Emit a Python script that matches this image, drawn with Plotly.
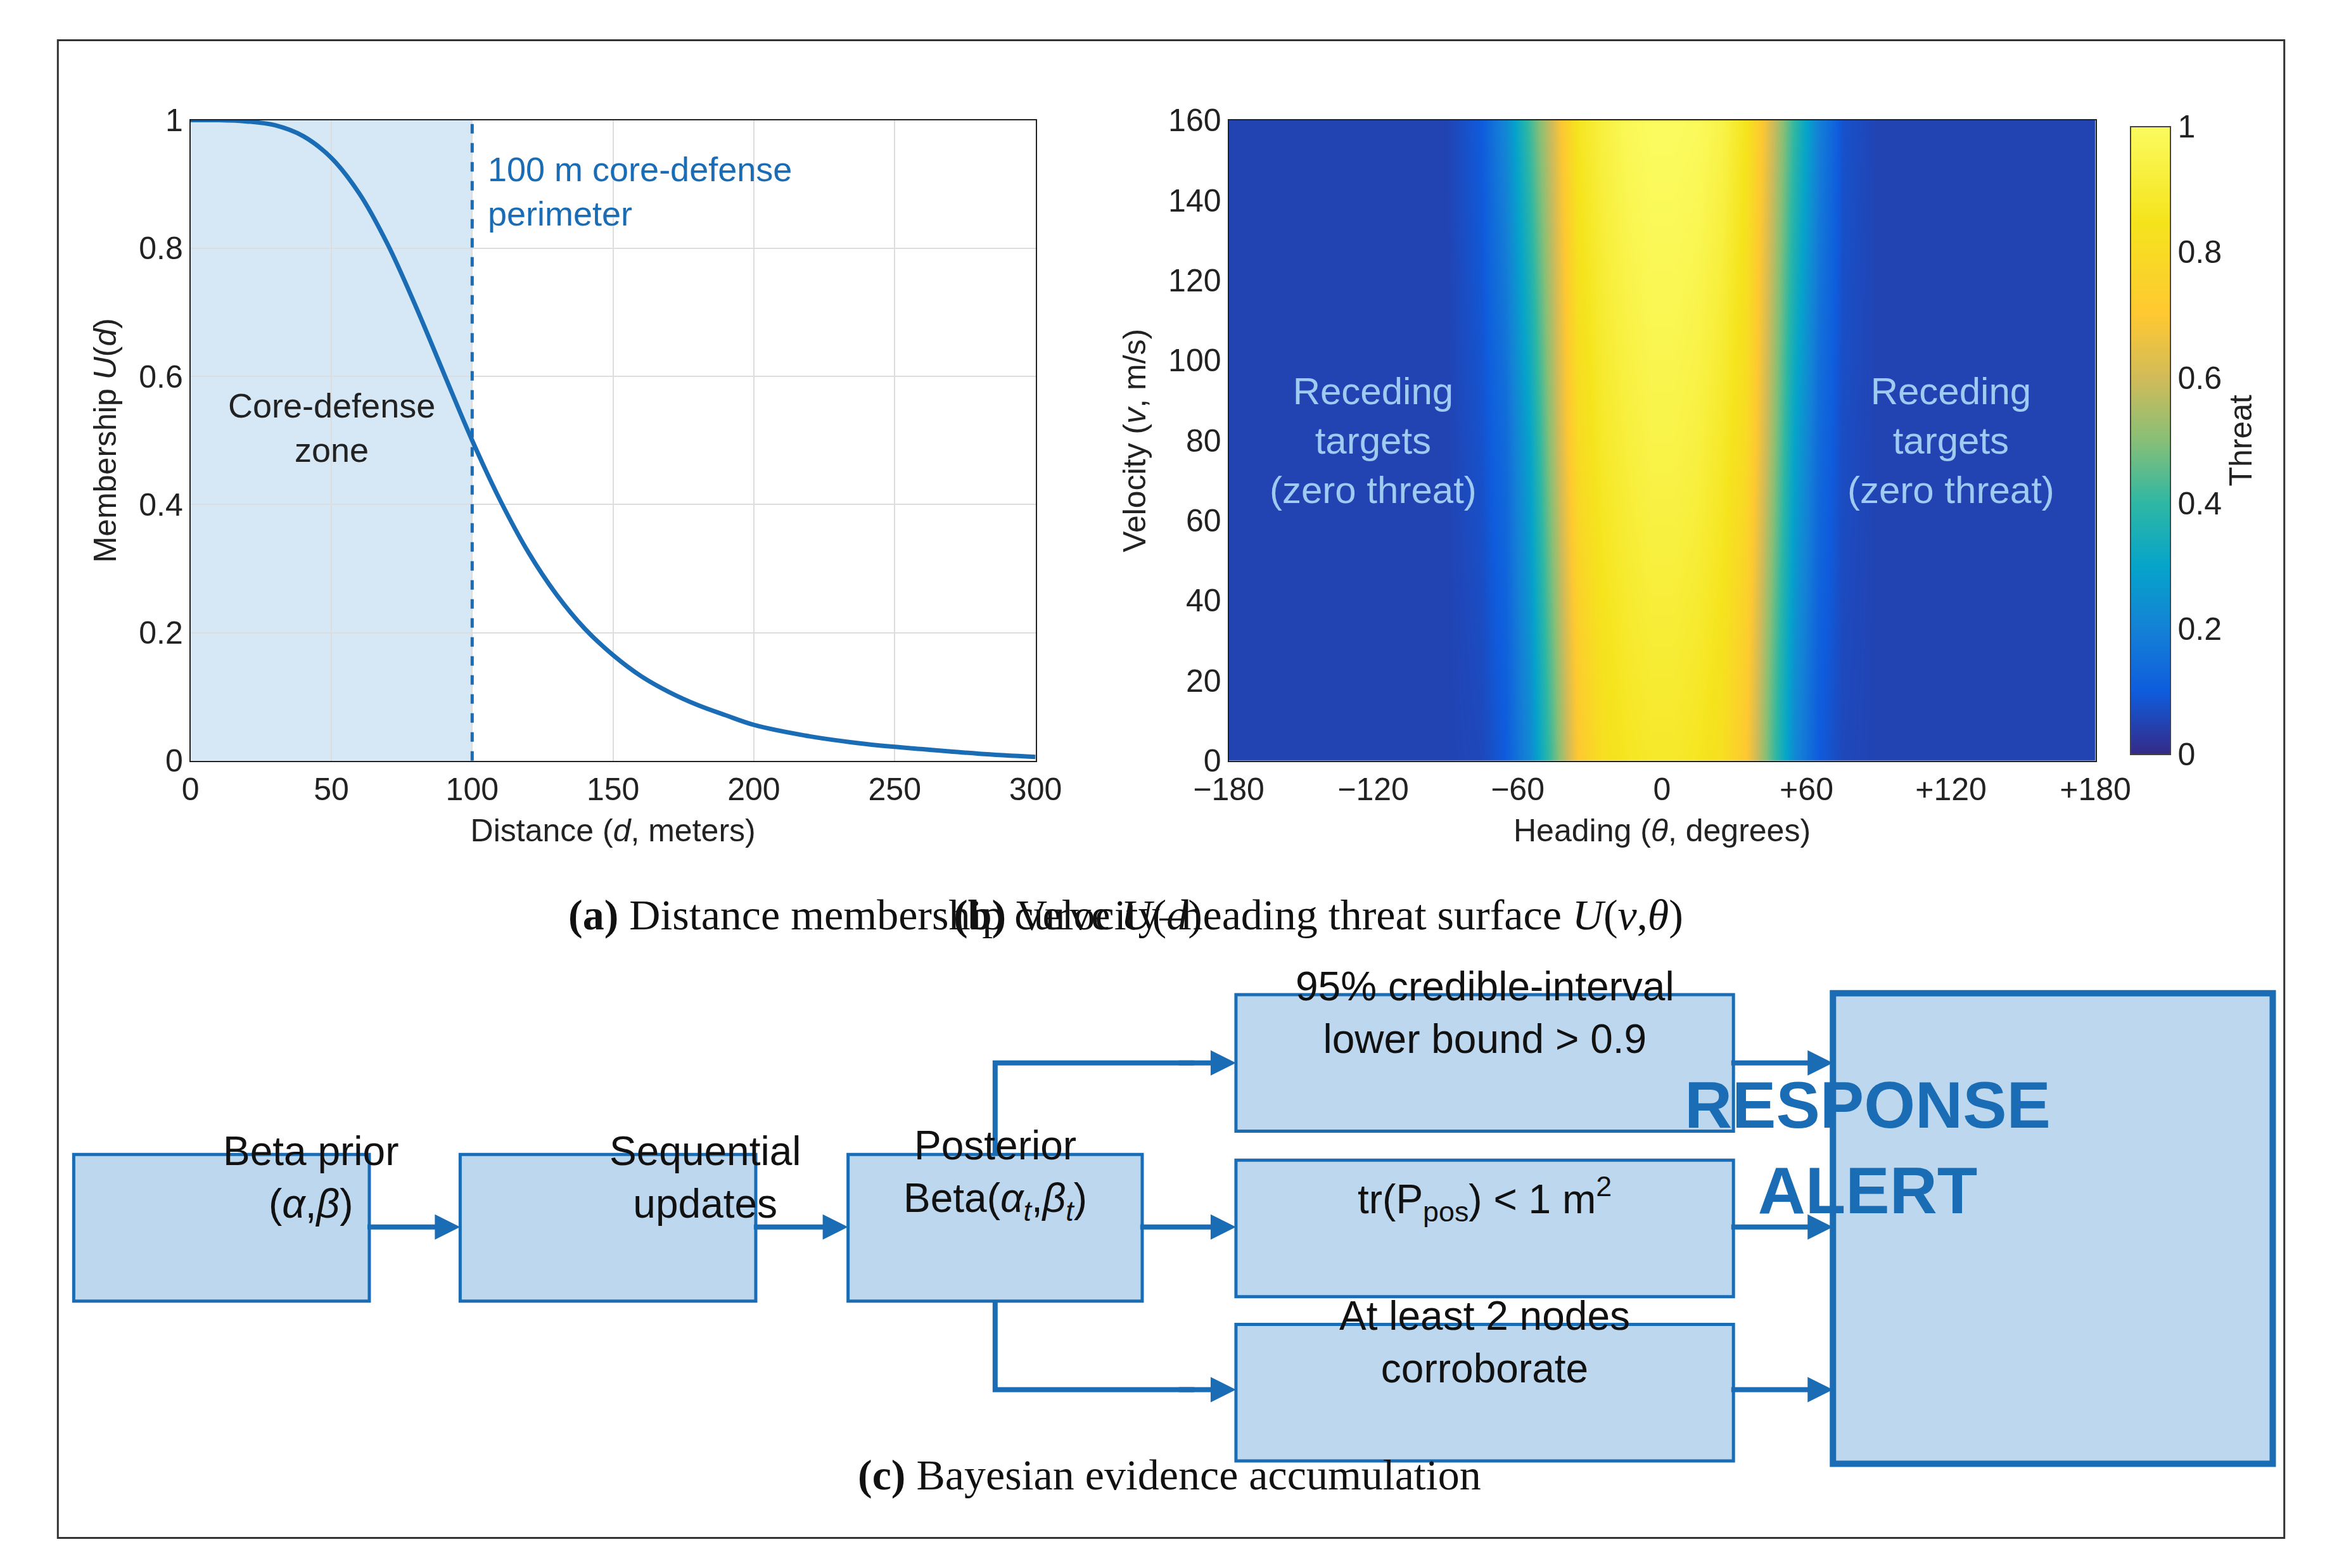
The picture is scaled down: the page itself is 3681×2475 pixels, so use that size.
import plotly.graph_objects as go

W, H = 3681, 2475
SW, SH = 1568.0, 1055.0
def px(x): return x / SW
def py(y): return 1 - y / SH

# Panel (a) data
dist = [0,10,20,30,40,50,60,70,80,90,100,110,120,130,140,150,160,170,180,190,200,220,240,260,280,300]
memb = [1.0,1.0,0.998,0.992,0.975,0.941,0.885,0.806,0.709,0.604,0.5,0.406,0.325,0.259,0.206,0.165,0.132,0.107,0.087,0.071,0.056,0.038,0.026,0.018,0.011,0.006]

# Panel (b) data
heading = [-180,-90,-75,-65,-55,-45,-35,-25,-15,-5,5,15,25,35,45,55,65,75,90,180]
velocity = [0, 80, 160]
threat = [
    [0.05,0.05,0.06,0.10,0.22,0.45,0.70,0.82,0.86,0.88,0.88,0.86,0.82,0.70,0.45,0.22,0.10,0.06,0.05,0.05],
    [0.05,0.05,0.08,0.14,0.30,0.55,0.80,0.88,0.92,0.95,0.95,0.93,0.88,0.80,0.55,0.30,0.14,0.07,0.05,0.05],
    [0.05,0.05,0.10,0.22,0.42,0.62,0.86,0.93,0.98,1.00,1.00,0.99,0.95,0.85,0.62,0.40,0.20,0.08,0.05,0.05],
]
hticks = [-180,-120,-60,0,60,120,180]
hlabels = ["\u2212180","\u2212120","\u221260","0","+60","+120","+180"]

parula = [[0,'#352a87'],[0.1,'#0f5cdd'],[0.2,'#1481d6'],[0.3,'#06a4ca'],[0.4,'#2eb7a4'],
          [0.5,'#87bf77'],[0.6,'#d1bb59'],[0.7,'#fec832'],[0.85,'#f5e41d'],[1,'#fbfb60']]

BLUE = '#1a6db5'
FILL = '#bdd7ee'
TF = dict(family='Liberation Sans, Arial', size=50, color='#222')

fig = go.Figure()
fig.add_trace(go.Scatter(x=dist, y=memb, mode='lines', line=dict(color=BLUE, width=7, shape='spline'),
                         xaxis='x', yaxis='y', showlegend=False))
fig.add_trace(go.Heatmap(x=heading, y=velocity, z=threat, zmin=0, zmax=1, zsmooth='best',
                         colorscale=parula, xaxis='x2', yaxis='y2',
                         colorbar=dict(x=px(1445), xanchor='left', len=py(67)-py(508), y=py(508),
                                       yanchor='bottom', thickness=px(27)*W, outlinewidth=2,
                                       tickvals=[0,0.2,0.4,0.6,0.8,1], ticktext=['0','0.2','0.4','0.6','0.8','1'],
                                       tickfont=TF, title=dict(text='Threat', side='right', font=TF), ticks='')))

ax_common = dict(showline=True, mirror=True, linecolor='#222', linewidth=2, tickfont=TF, ticks='', zeroline=False)
fig.update_layout(
    width=W, height=H, margin=dict(l=0, r=0, t=0, b=0), paper_bgcolor='white', plot_bgcolor='white',
    font=dict(family='Liberation Sans, Arial'),
    xaxis=dict(domain=[px(104), px(690)], range=[0,300], tickvals=[0,50,100,150,200,250,300],
               showgrid=True, gridcolor='#dddddd', gridwidth=2, anchor='y',
               title=dict(text='Distance (<i>d</i>, meters)', font=TF, standoff=20), **ax_common),
    yaxis=dict(domain=[py(508), py(67)], range=[0,1], tickvals=[0,0.2,0.4,0.6,0.8,1],
               ticktext=['0','0.2','0.4','0.6','0.8','1'], showgrid=True, gridcolor='#dddddd', gridwidth=2,
               anchor='x', title=dict(text='Membership <i>U</i>(<i>d</i>)', font=TF, standoff=20), **ax_common),
    xaxis2=dict(domain=[px(824), px(1425)], range=[-180,180], tickvals=hticks, ticktext=hlabels, anchor='y2',
                showgrid=False, title=dict(text='Heading (<i>θ</i>, degrees)', font=TF, standoff=20), **ax_common),
    yaxis2=dict(domain=[py(508), py(67)], range=[0,160], tickvals=list(range(0,161,20)), anchor='x2',
                showgrid=False, title=dict(text='Velocity (<i>v</i>, m/s)', font=TF, standoff=20), **ax_common),
)

shapes = [
    dict(type='rect', xref='paper', yref='paper', x0=px(12), x1=px(1556), y0=py(1043), y1=py(12),
         line=dict(color='#333', width=3)),
    dict(type='rect', xref='x', yref='y', x0=0, x1=100, y0=0, y1=1, fillcolor='rgba(120,175,225,0.3)',
         line=dict(width=0), layer='below'),
    dict(type='line', xref='x', yref='y', x0=100, x1=100, y0=0, y1=1, line=dict(color=BLUE, width=5, dash='dash')),
]
ann = [
    dict(xref='x', yref='y', x=105, y=0.955, text='100 m core-defense<br>perimeter', showarrow=False,
         xanchor='left', yanchor='top', align='left', font=dict(size=54, color=BLUE)),
    dict(xref='x', yref='y', x=50, y=0.52, text='Core-defense<br>zone', showarrow=False,
         font=dict(size=54, color='#222')),
]
for xv in [-120, 120]:
    ann.append(dict(xref='x2', yref='y2', x=xv, y=80, text='Receding<br>targets<br>(zero threat)',
                    showarrow=False, font=dict(size=60, color='#9fcaf2')))

SER = 'Liberation Serif, Times New Roman'
ann += [
    dict(xref='paper', yref='paper', x=px(365), y=py(614), text='<b>(a)</b> Distance membership curve <i>U</i>(<i>d</i>)',
         showarrow=False, font=dict(family=SER, size=68, color='#111')),
    dict(xref='paper', yref='paper', x=px(1140), y=py(614), text='<b>(b)</b> Velocity\u2013heading threat surface <i>U</i>(<i>v</i>,<i>θ</i>)',
         showarrow=False, font=dict(family=SER, size=68, color='#111')),
    dict(xref='paper', yref='paper', x=px(783), y=py(1017), text='<b>(c)</b> Bayesian evidence accumulation',
         showarrow=False, font=dict(family=SER, size=68, color='#111')),
]

boxes = [
    (23,228,779,880,'Beta prior<br>(<i>α</i>,<i>β</i>)'),
    (291,496,779,880,'Sequential<br>updates'),
    (560,764,779,880,'Posterior<br>Beta(<i>α<sub>t</sub></i>,<i>β<sub>t</sub></i>)'),
    (829,1174,669,763,'95% credible-interval<br>lower bound > 0.9'),
    (829,1174,783,877,'tr(P<sub>pos</sub>) < 1 m<sup>2</sup>'),
    (829,1174,896,990,'At least 2 nodes<br>corroborate'),
]
for x0,x1,y0,y1,t in boxes:
    shapes.append(dict(type='rect', xref='paper', yref='paper', x0=px(x0), x1=px(x1), y0=py(y1), y1=py(y0),
                       fillcolor=FILL, line=dict(color=BLUE, width=5)))
    ann.append(dict(xref='paper', yref='paper', x=px((x0+x1)/2), y=py((y0+y1)/2), text=t, showarrow=False,
                    font=dict(size=64, color='#111')))
shapes.append(dict(type='rect', xref='paper', yref='paper', x0=px(1243), x1=px(1548), y0=py(992), y1=py(668),
                   fillcolor=FILL, line=dict(color=BLUE, width=10)))
ann.append(dict(xref='paper', yref='paper', x=px(1395), y=py(830), text='<b>RESPONSE<br>ALERT</b>',
                showarrow=False, font=dict(size=104, color=BLUE)))

def arrow(xa, ya, xb, yb):
    ann.append(dict(xref='paper', yref='paper', x=px(xb), y=py(yb),
                    ax=(xa - xb) * W / SW, ay=(ya - yb) * H / SH, text='', showarrow=True, arrowhead=2,
                    arrowsize=1, arrowwidth=8, arrowcolor=BLUE))
arrow(228,829,291,829); arrow(496,829,560,829); arrow(764,829,829,829)
shapes.append(dict(type='path', xref='paper', yref='paper',
                   path=f'M {px(662)} {py(779)} L {px(662)} {py(716)} L {px(800)} {py(716)}',
                   line=dict(color=BLUE, width=8)))
shapes.append(dict(type='path', xref='paper', yref='paper',
                   path=f'M {px(662)} {py(880)} L {px(662)} {py(941)} L {px(800)} {py(941)}',
                   line=dict(color=BLUE, width=8)))
arrow(790,716,829,716); arrow(790,941,829,941)
for yy in [716,829,941]:
    arrow(1174,yy,1243,yy)

fig.update_layout(shapes=shapes, annotations=ann)
fig.write_html('out.html')
